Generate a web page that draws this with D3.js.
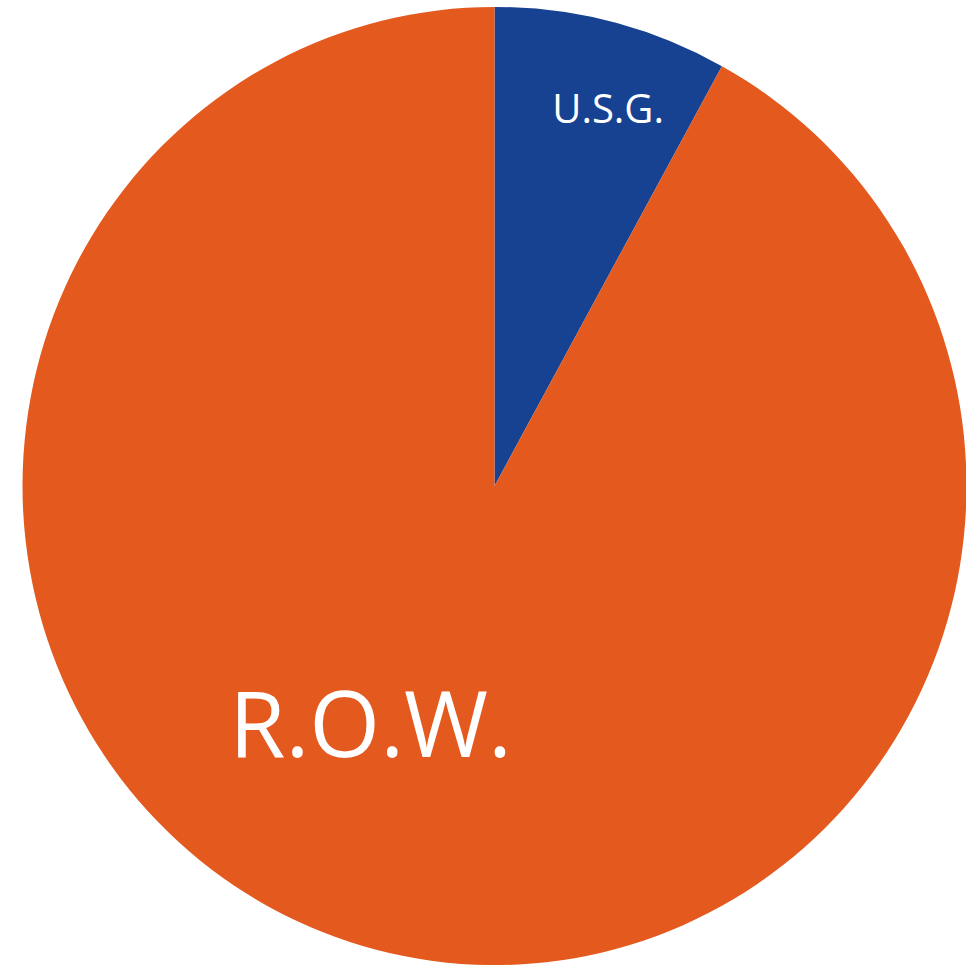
<!DOCTYPE html>
<html>
<head>
<meta charset="utf-8">
<script src="https://cdn.jsdelivr.net/npm/d3@7"></script>
<style>
  body { margin: 0; background: #fff; }
</style>
</head>
<body>
<div id="chart"></div>
<script>
// slice data
const labels = ["U.S.G.", "R.O.W."];
const shares = [8, 92];
const colors = ["#174191", "#E3591E"];

const width = 966, height = 967;
const cx = 494.5, cy = 486, radius = 472;

const svg = d3.select("#chart")
    .append("svg")
    .attr("width", width)
    .attr("height", height);

// pie is a hair taller than wide in the picture
const g = svg.append("g")
    .attr("transform", `translate(${cx},${cy}) scale(1,1.015)`);

const pie = d3.pie().sort(null).value(d => d.value);
const arcs = pie(labels.map((l, i) => ({label: l, value: shares[i], color: colors[i]})));

const arc = d3.arc().innerRadius(0).outerRadius(radius);

g.selectAll("path")
    .data(arcs)
    .enter()
    .append("path")
    .attr("d", arc)
    .attr("fill", d => d.data.color);

// label placement: radius and angle nudge per slice, font size
const labelStyle = [
    {r: 389, da: 0.045, size: 40},
    {r: 265, da: 0.235, size: 91}
];

g.selectAll("text")
    .data(arcs)
    .enter()
    .append("text")
    .attr("transform", (d, i) => {
        const s = labelStyle[i];
        const a = (d.startAngle + d.endAngle) / 2 + s.da;
        const x = Math.sin(a) * s.r;
        const y = -Math.cos(a) * s.r;
        return `translate(${x},${y}) scale(1,${1 / 1.015})`;
    })
    .attr("text-anchor", "middle")
    .attr("dy", "0.36em")
    .attr("font-family", "'Open Sans', sans-serif")
    .attr("font-size", (d, i) => labelStyle[i].size + "px")
    .attr("fill", "#fff")
    .text(d => d.data.label);
</script>
</body>
</html>
